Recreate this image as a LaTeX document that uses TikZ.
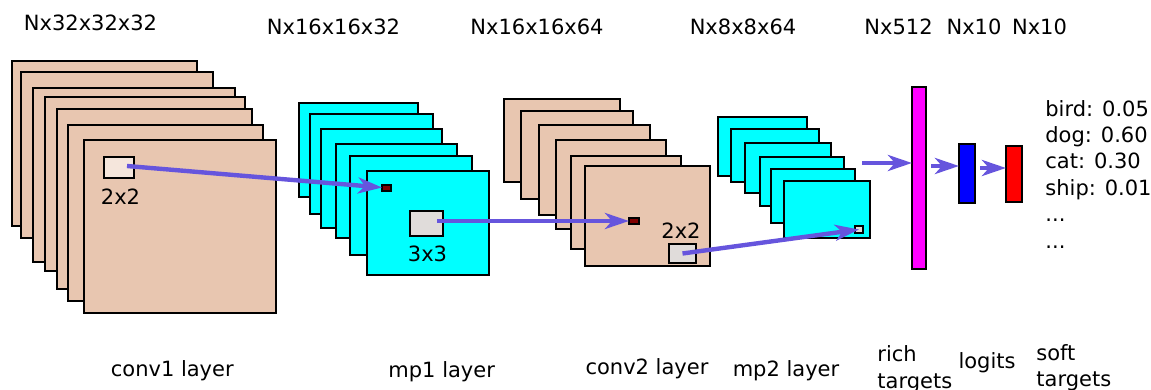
\documentclass[tikz,border=0pt]{standalone}
\usepackage{fontspec}
\setmainfont{DejaVu Sans}
\usepackage{tikz}
\usetikzlibrary{arrows.meta,calc}
\definecolor{peach}{HTML}{E8C6B0}
\definecolor{palepeach}{HTML}{F5E6DC}
\definecolor{aqua}{HTML}{00FFFF}
\definecolor{fuchsia}{HTML}{FF00FF}
\definecolor{pureblue}{HTML}{0000FF}
\definecolor{purered}{HTML}{FF0000}
\definecolor{patchgray}{HTML}{E0DCDA}
\definecolor{darkred}{HTML}{800000}
\definecolor{arrowblue}{HTML}{6655DD}

\begin{document}
\begin{tikzpicture}[
  x=0.5pt,y=-0.5pt,
  font=\fontsize{10.5}{13.25}\selectfont,
  convmap/.style={draw=black,line width=1pt,fill=peach},
  poolmap/.style={draw=black,line width=1pt,fill=aqua},
  patch/.style={draw=black,line width=1pt,inner sep=0pt,outer sep=0pt},
  bar/.style={draw=black,line width=1pt,inner sep=0pt,outer sep=0pt},
  lbl/.style={inner sep=0pt,anchor=base},
  arr/.style={-{Stealth[length=12pt,width=8pt,inset=3.5pt]},line width=2.2pt,draw=arrowblue,fill=arrowblue}
]
\useasboundingbox (0,0) rectangle (1151,390);

% feature map stacks
\foreach \xa/\ya/\xb/\yb in {12/61/197/226,21/72/213/238,33/88/235/262,45/97/245/271,57/109/252/289,68/125/263/301,84/140/276/313}
  \draw[convmap] (\xa,\ya) rectangle (\xb,\yb);
\foreach \xa/\ya/\xb/\yb in {299/103/418/197,310/114/433/214,321/129/442/228,336/144/457/238,350/156/472/255,367/171/489/275}
  \draw[poolmap] (\xa,\ya) rectangle (\xb,\yb);
\foreach \xa/\ya/\xb/\yb in {504/99/620/182,521/111/633/199,539/125/650/215,556/140/666/229,571/156/681/249,585/166/710/266}
  \draw[convmap] (\xa,\ya) rectangle (\xb,\yb);
\foreach \xa/\ya/\xb/\yb in {718/117/807/176,731/129/819/182,745/143/831/193,760/157/844/206,771/169/855/223,784/181/870/238}
  \draw[poolmap] (\xa,\ya) rectangle (\xb,\yb);

% patches
\node[patch,fill=palepeach,minimum width=15pt,minimum height=10.5pt] (k1) at (119,167.5) {};
\node[patch,fill=darkred,minimum width=4.5pt,minimum height=3pt] (r1) at (386.5,187.5) {};
\node[patch,fill=patchgray,minimum width=16.5pt,minimum height=12.5pt] (g1) at (426.5,223.5) {};
\node[patch,fill=darkred,minimum width=5pt,minimum height=3pt] (r2) at (634,221) {};
\node[patch,fill=patchgray,minimum width=13.5pt,minimum height=9.5pt] (g2) at (682.5,253.5) {};
\node[patch,fill=patchgray,minimum width=4pt,minimum height=3.5pt] (t2) at (859,229.5) {};

% dense layers
\node[bar,fill=fuchsia,minimum width=7pt,minimum height=91pt] (rich) at (919,178) {};
\node[bar,fill=pureblue,minimum width=8pt,minimum height=29.5pt] (logits) at (967,173.5) {};
\node[bar,fill=purered,minimum width=8pt,minimum height=28pt] (soft) at (1014,174) {};

% connectors
\draw[arr] ($(k1.center)+(8,-1.5)$) -- (r1.west);
\draw[arr] ($(g1.center)+(10.5,-2.5)$) -- (r2.west);
\draw[arr] (g2.center) -- (t2.center);
\coordinate (m2out) at (862,163);
\coordinate (lv1) at (931,166);
\coordinate (lv2) at (980,168);
\draw[arr] (m2out) -- (m2out -| rich.west);
\draw[arr] (lv1) -- (lv1 -| logits.west);
\draw[arr] (lv2) -- (lv2 -| soft.west);

% patch sizes
\node[lbl] (k1size) at (120.5,204) {2x2};
\node[lbl] (g1size) at (427.5,261) {3x3};
\node[lbl] (g2size) at (681,238) {2x2};

% tensor shapes
\node[lbl] (dim1) at (90.5,31) {Nx32x32x32};
\node[lbl] (dim2) at (333.5,35) {Nx16x16x32};
\node[lbl] (dim3) at (537,35) {Nx16x16x64};
\node[lbl] (dim4) at (743,35) {Nx8x8x64};
\node[lbl] (dim5) at (898.5,35) {Nx512};
\node[lbl] (dim6) at (974,35) {Nx10};
\node[lbl] (dim7) at (1039.5,35) {Nx10};

% class probabilities (base = last line)
\node[lbl,anchor=base west,align=left] (probs) at (1045,248.5) {bird: 0.05\\dog: 0.60\\cat: 0.30\\ship: 0.01\\...\\...};

% layer names
\node[lbl] (name1) at (172.3,376.7) {conv1 layer};
\node[lbl] (name2) at (441.7,377.5) {mp1 layer};
\node[lbl] (name3) at (647,374.3) {conv2 layer};
\node[lbl] (name4) at (786,376.7) {mp2 layer};
\node[lbl,anchor=base west,align=left] (name5) at (877,388) {rich\\targets};
\node[lbl] (name6) at (987,368) {logits};
\node[lbl,anchor=base west,align=left] (name7) at (1036,386.5) {soft\\targets};
\end{tikzpicture}
\end{document}
